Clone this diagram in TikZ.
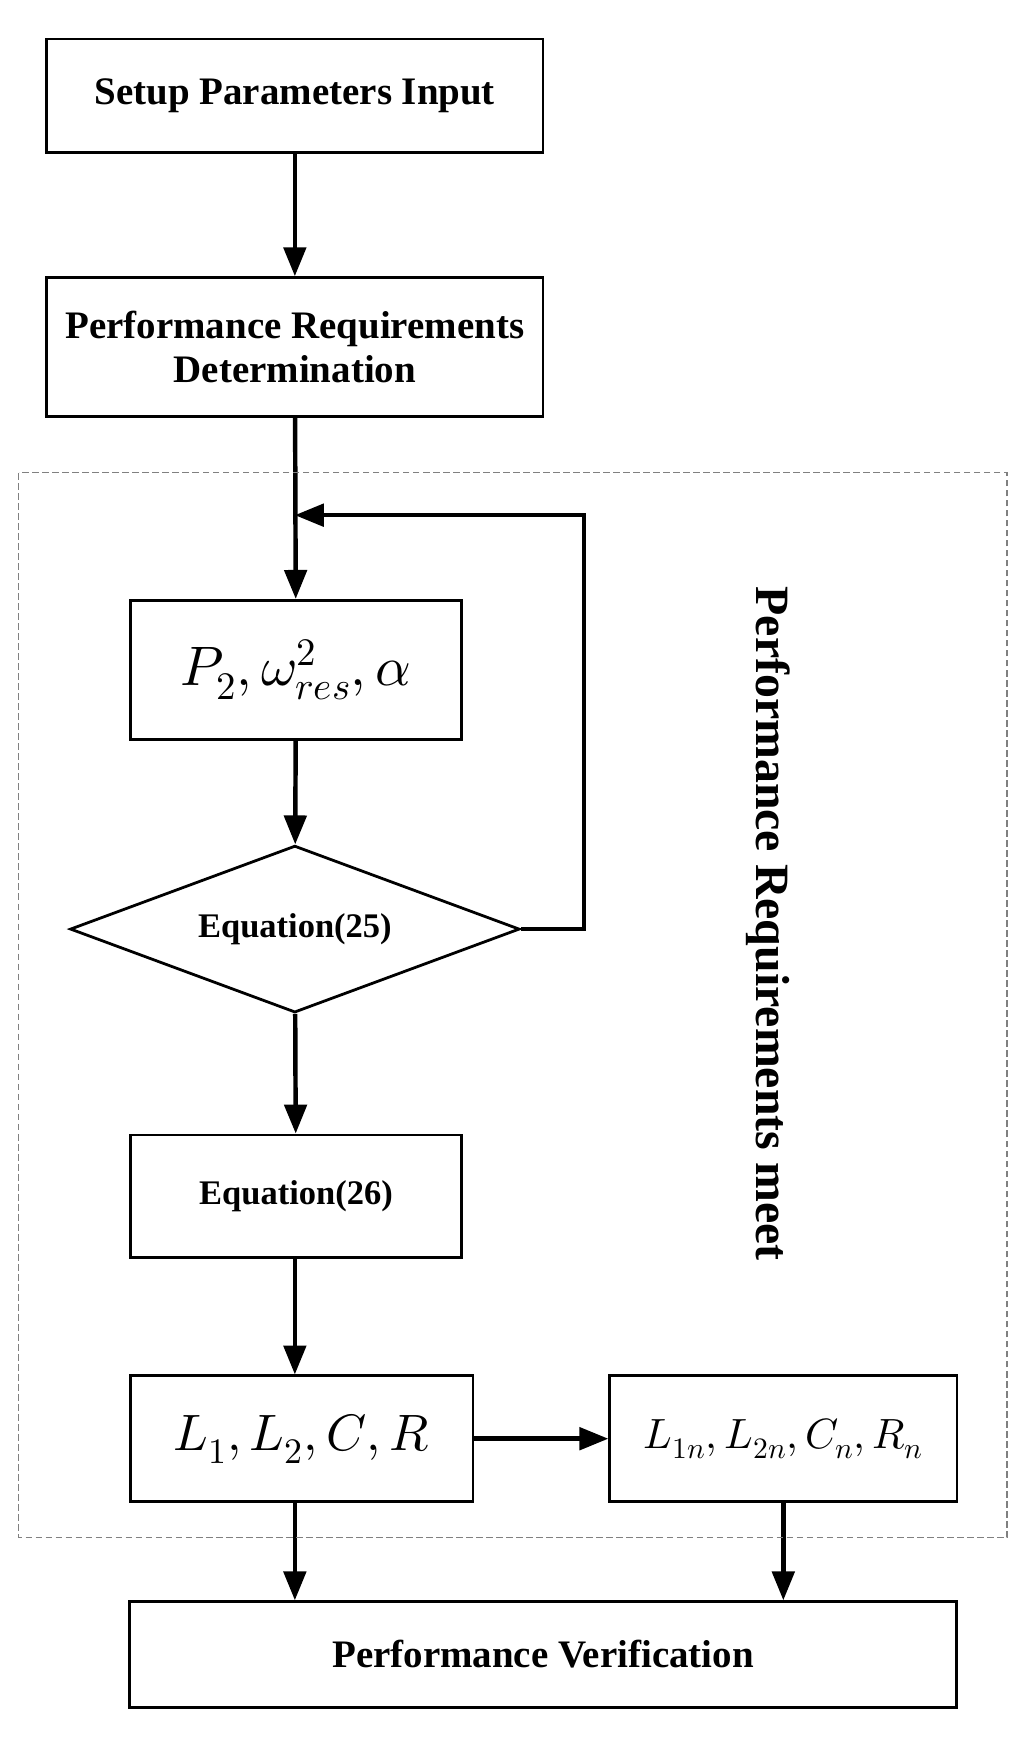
\documentclass[tikz,border=0pt]{standalone}
\usepackage{unicode-math}
\setmainfont{Liberation Serif}
\setmathfont{Latin Modern Math}
\usetikzlibrary{arrows.meta,shapes.geometric}
\begin{document}
\begin{tikzpicture}[x=1pt,y=-1pt,line width=2.5pt,
  box/.style={draw, inner sep=0pt},
  arr/.style={-{Triangle[length=26pt,width=20pt]}, line width=4pt},
  lbl/.style={font=\fontsize{35}{40}\selectfont\bfseries, align=center},
  small lbl/.style={font=\fontsize{31}{36}\selectfont\bfseries}]
\useasboundingbox (0,0) rectangle (920,1562);
\node[box, lbl, minimum width=446pt, minimum height=102pt] (setup) at (265,86) {Setup Parameters Input};
\node[box, lbl, minimum width=446pt, minimum height=125pt] (perf) at (265,312) {Performance Requirements\\Determination};
\node[box, minimum width=298pt, minimum height=125pt, font=\fontsize{50}{56}\selectfont] (params) at (266,602) {$P_2,\omega_{res}^2,\alpha$};
\node[draw, diamond, aspect=2.7, inner sep=0pt, minimum width=404pt, minimum height=150pt, small lbl] (eqa) at (265,835) {Equation(25)};
\node[box, small lbl, minimum width=298pt, minimum height=110pt] (eqb) at (266,1075) {Equation(26)};
\node[box, minimum width=308pt, minimum height=113pt, font=\fontsize{46}{52}\selectfont] (lcr) at (271,1293) {$L_1,L_2,C,R$};
\node[box, minimum width=312pt, minimum height=113pt, font=\fontsize{38}{44}\selectfont] (lcrn) at (704,1293) {$L_{1n},L_{2n},C_n,R_n$};
\node[box, lbl, minimum width=743pt, minimum height=95pt] (verif) at (488,1487) {Performance Verification};
%%%%%%%%%%%%%
\coordinate (join) at (265,463);
\coordinate (turn) at (525,835);
\draw[arr] (setup) -- (perf);
\draw[arr] (perf) -- (params);
\draw[arr] (params) -- (eqa);
\draw[arr] (eqa) -- (eqb);
\draw[arr] (eqb.south -| 265,0) -- (lcr.north -| 265,0);
\draw[arr] (lcr) -- (lcrn);
\draw[arr] (lcr.south -| 265,0) -- (verif.north -| 265,0);
\draw[arr] (lcrn.south) -- (verif.north -| lcrn.south);
\draw[arr] (eqa.east) -- (turn) |- (join);
%%%%%%%%%%%%%
\draw[gray, line width=1pt, dash pattern=on 6pt off 3pt] (17,425) rectangle (905,1382);
\node[font=\fontsize{43}{48}\selectfont\bfseries, rotate=-90] (meet) at (690,830) {Performance Requirements meet};
\end{tikzpicture}
\end{document}
